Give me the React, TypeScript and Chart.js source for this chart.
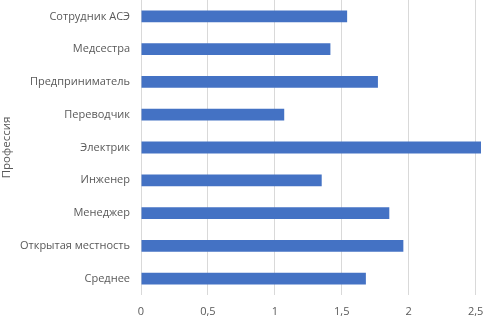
import React, { useEffect, useRef } from "react";
import { Chart, registerables } from "chart.js";

Chart.register(...registerables);

const categories = [
  "Сотрудник АСЭ",
  "Медсестра",
  "Предприниматель",
  "Переводчик",
  "Электрик",
  "Инженер",
  "Менеджер",
  "Открытая местность",
  "Среднее",
];
const values = [1.54, 1.415, 1.77, 1.07, 2.54, 1.35, 1.855, 1.96, 1.68];
const xTicks = [0, 0.5, 1, 1.5, 2, 2.5];
const yTitle = "Профессия";

export default function App() {
  const ref = useRef<HTMLCanvasElement>(null);
  useEffect(() => {
    document.body.style.margin = "0";
    const ctx = ref.current!;
    const font = { family: "'Open Sans', 'Liberation Sans', sans-serif", size: 11 };
    const chart = new Chart(ctx, {
      type: "bar",
      data: {
        labels: categories,
        datasets: [
          {
            data: values,
            backgroundColor: "#4472C4",
            borderWidth: 0,
            barPercentage: 0.72,
            categoryPercentage: 0.5,
          },
        ],
      },
      options: {
        indexAxis: "y",
        animation: false,
        responsive: false,
        maintainAspectRatio: false,
        layout: { padding: 0 },
        plugins: { legend: { display: false }, tooltip: { enabled: false } },
        scales: {
          x: {
            min: 0,
            max: 2.555,
            afterBuildTicks: (scale: any) => {
              scale.ticks = xTicks.map((v) => ({ value: v }));
            },
            afterFit: (scale: any) => {
              scale.height = 21;
              scale.paddingLeft = 0;
              scale.paddingRight = 0;
            },
            ticks: {
              color: "#595959",
              font,
              padding: 10,
              maxRotation: 0,
              callback: (v: any) => String(v).replace(".", ","),
            },
            grid: { color: "#d9d9d9", drawTicks: false },
            border: { display: false },
          },
          y: {
            afterFit: (scale: any) => {
              scale.width = 141;
              scale.paddingTop = 0;
              scale.paddingBottom = 0;
            },
            ticks: { color: "#595959", font, padding: 11 },
            grid: { display: false, drawTicks: false },
            border: { display: false },
            title: {
              display: true,
              text: yTitle,
              color: "#595959",
              font: { ...font, size: 11.5 },
              padding: { top: 0, bottom: 0 },
            },
          },
        },
      },
    });
    return () => chart.destroy();
  }, []);
  return (
    <div style={{ position: "fixed", left: 0, top: 0, width: 483, height: 316, background: "#fff" }}>
      <canvas ref={ref} width={483} height={316} style={{ display: "block" }} />
    </div>
  );
}
